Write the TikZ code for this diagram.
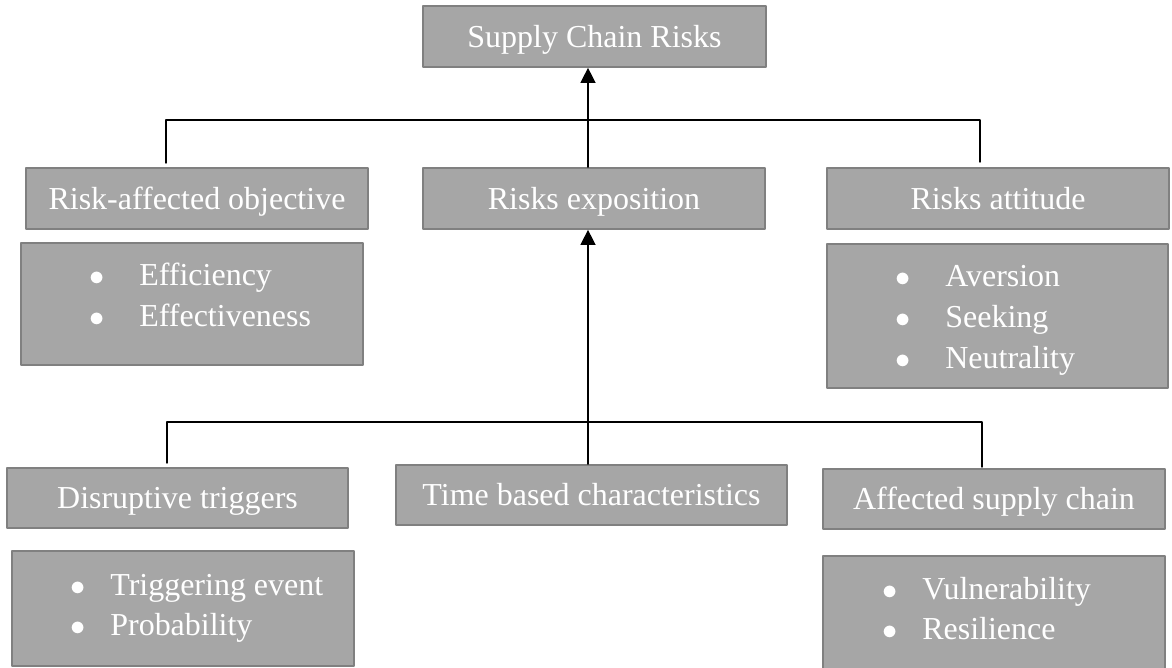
\documentclass[tikz,border=0pt]{standalone}
\usepackage{fontspec}
\setmainfont{Liberation Serif}
\usetikzlibrary{arrows.meta}
\definecolor{boxfill}{HTML}{A6A6A6}
\definecolor{boxline}{HTML}{808080}
\newcommand{\bulletlist}[2]{\begin{tabular}[t]{@{}p{#1}@{}l@{}}#2\end{tabular}}
\newcommand{\dotitem}{$\bullet$}

\begin{document}
\fontsize{18.2}{23.3}\selectfont
\begin{tikzpicture}[line cap=round,line join=round,x=0.02cm,y=-0.02cm,
  riskbox/.style={draw=boxline,fill=boxfill,line width=1pt,text=white,inner sep=0pt,
    minimum height=1.22cm,text height=12pt,text depth=0pt},
  risklist/.style={text=white,inner sep=0pt,anchor=base west},
  conn/.style={line width=0.8pt},
  up/.style={conn,-{Triangle[length=8.5pt,width=8.5pt]}}]
\useasboundingbox (0,0) rectangle (1172,668);
% top level
\node[riskbox,minimum width=6.86cm] (scr) at (594.5,36.5) {Supply Chain Risks};
\node[riskbox,minimum width=6.84cm] (obj) at (197,198.5) {Risk-affected objective};
\node[riskbox,minimum width=6.84cm] (expo) at (594,198.5) {Risks exposition};
\node[riskbox,minimum width=6.84cm] (att) at (998,198.5) {Risks attitude};
\node[riskbox,minimum width=6.84cm,minimum height=2.44cm] (objbox) at (192,304) {};
\node[risklist] (objitems) at (89,286) {\bulletlist{1cm}{\dotitem & Efficiency\\ \dotitem & Effectiveness}};
\node[riskbox,minimum width=6.82cm,minimum height=2.88cm] (attbox) at (997.5,316) {};
\node[risklist] (attitems) at (895,287) {\bulletlist{1cm}{\dotitem & Aversion\\ \dotitem & Seeking\\ \dotitem & Neutrality}};
% exposition level
\node[riskbox,minimum width=6.82cm,minimum height=1.2cm] (disr) at (177.5,498) {Disruptive triggers};
\node[riskbox,minimum width=7.82cm,minimum height=1.2cm] (time) at (591.5,495) {Time based characteristics};
\node[riskbox,minimum width=6.84cm,minimum height=1.2cm] (aff) at (994,499) {Affected supply chain};
\node[riskbox,minimum width=6.84cm,minimum height=2.3cm] (disrbox) at (183,608.5) {};
\node[risklist] (disritems) at (70,595) {\bulletlist{0.8cm}{\dotitem & Triggering event\\ \dotitem & Probability}};
\node[riskbox,minimum width=6.84cm,minimum height=2.32cm] (affbox) at (994,614) {};
\node[risklist] (affitems) at (882,599) {\bulletlist{0.8cm}{\dotitem & Vulnerability\\ \dotitem & Resilience}};
% connectors
\coordinate (spine) at (588,0);
\coordinate (topbarL) at (166,120);
\coordinate (topbarR) at (980,120);
\coordinate (objtick) at (166,163);
\coordinate (atttick) at (980,162);
\draw[conn] (objtick) -- (topbarL) -- (topbarR) -- (atttick);
\draw[up] (expo.north -| spine) -- (scr.south -| spine);
\coordinate (lowbarL) at (167,422);
\coordinate (lowbarR) at (982,422);
\coordinate (disrtick) at (167,463);
\coordinate (afftick) at (982,467);
\draw[conn] (disrtick) -- (lowbarL) -- (lowbarR) -- (afftick);
\draw[up] (time.north -| spine) -- (expo.south -| spine);
\end{tikzpicture}
\end{document}
